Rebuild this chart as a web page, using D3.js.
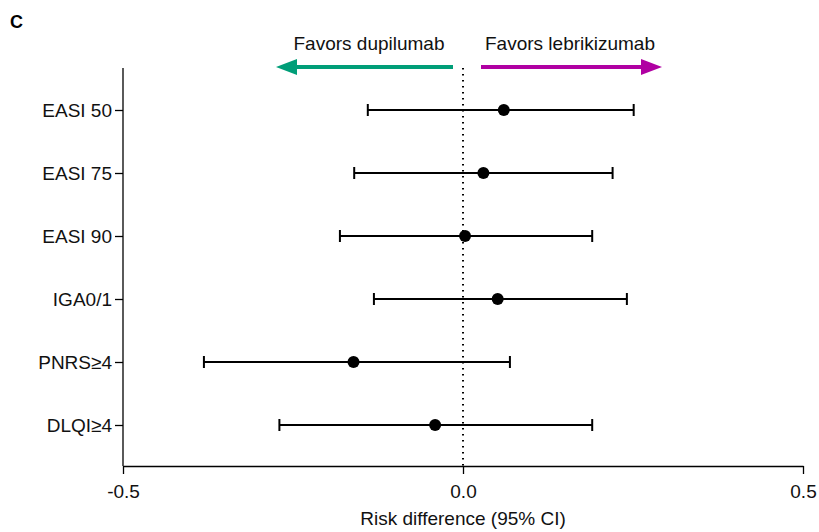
<!DOCTYPE html>
<html><head><meta charset="utf-8">
<script src="https://cdn.jsdelivr.net/npm/d3@7"></script>
<style>body{margin:0;background:#fff;} text{font-family:"Liberation Sans",Arial,sans-serif;}</style>
</head><body>
<svg id="c" width="819" height="532"></svg>
<script>
const categories = ["EASI 50","EASI 75","EASI 90","IGA0/1","PNRS≥4","DLQI≥4"];
const estimates = [0.060, 0.030, 0.003, 0.051, -0.161, -0.041];
const lowerCI = [-0.140, -0.160, -0.181, -0.131, -0.381, -0.270];
const upperCI = [0.251, 0.220, 0.190, 0.241, 0.069, 0.190];
const xTicks = [-0.5, 0, 0.5];
const xTickLabels = ["-0.5","0.0","0.5"];

const svg = d3.select("#c");
const x = d3.scaleLinear().domain([-0.5,0.5]).range([123,803]);
const y = d3.scalePoint().domain(categories).range([110,425]);
const yTop = 68, yBot = 466;
const FS = 19;

// panel letter
svg.append("text").attr("x",10).attr("y",28).attr("font-size",18).attr("font-weight","bold").text("C");

// y axis
const ya = svg.append("g").attr("transform",`translate(123,0)`)
  .call(d3.axisLeft(y).tickSize(8).tickPadding(3));
ya.select(".domain").attr("d",`M0,${yTop}V${yBot}`).attr("stroke","#000").attr("stroke-width",1.3);
ya.selectAll(".tick line").attr("stroke","#000").attr("stroke-width",1.3);
ya.selectAll(".tick text").attr("font-size",FS).attr("fill","#111").attr("dy","0.35em")
  .style("font-family","'Liberation Sans',Arial,sans-serif");

// x axis
const xa = svg.append("g").attr("transform",`translate(0,${yBot})`)
  .call(d3.axisBottom(x).tickValues(xTicks).tickFormat((d,i)=>xTickLabels[i]).tickSize(8).tickPadding(11).tickSizeOuter(0));
xa.select(".domain").attr("stroke","#000").attr("stroke-width",1.3);
xa.selectAll(".tick line").attr("stroke","#000").attr("stroke-width",1.3);
xa.selectAll(".tick text").attr("font-size",FS).attr("fill","#111")
  .style("font-family","'Liberation Sans',Arial,sans-serif");

svg.append("text").attr("x",x(0)).attr("y",525).attr("text-anchor","middle")
  .attr("font-size",FS).attr("fill","#111").text("Risk difference (95% CI)");

// zero reference line
svg.append("line").attr("x1",x(0)).attr("x2",x(0)).attr("y1",yTop).attr("y2",yBot)
  .attr("stroke","#000").attr("stroke-width",2).attr("stroke-dasharray","1.6,4.4");

// error bars
const rows = categories.map((c,i)=>({c, est:estimates[i], lo:lowerCI[i], hi:upperCI[i]}));
const g = svg.append("g");
g.selectAll(".ci").data(rows).join("line")
  .attr("x1",d=>x(d.lo)).attr("x2",d=>x(d.hi)).attr("y1",d=>y(d.c)).attr("y2",d=>y(d.c))
  .attr("stroke","#000").attr("stroke-width",2);
g.selectAll(".capl").data(rows).join("line")
  .attr("x1",d=>x(d.lo)).attr("x2",d=>x(d.lo)).attr("y1",d=>y(d.c)-6).attr("y2",d=>y(d.c)+6)
  .attr("stroke","#000").attr("stroke-width",2);
g.selectAll(".caph").data(rows).join("line")
  .attr("x1",d=>x(d.hi)).attr("x2",d=>x(d.hi)).attr("y1",d=>y(d.c)-6).attr("y2",d=>y(d.c)+6)
  .attr("stroke","#000").attr("stroke-width",2);
g.selectAll("circle").data(rows).join("circle")
  .attr("cx",d=>x(d.est)).attr("cy",d=>y(d.c)).attr("r",6).attr("fill","#000");

// direction arrows
const green = "#009E78", magenta = "#B000A2";
const ay = 67;
svg.append("line").attr("x1",453).attr("x2",292).attr("y1",ay).attr("y2",ay).attr("stroke",green).attr("stroke-width",4);
svg.append("path").attr("d",`M276,${ay}L297,${ay-8}L297,${ay+8}Z`).attr("fill",green);
svg.append("line").attr("x1",481).attr("x2",648).attr("y1",ay).attr("y2",ay).attr("stroke",magenta).attr("stroke-width",4);
svg.append("path").attr("d",`M662,${ay}L641,${ay-8}L641,${ay+8}Z`).attr("fill",magenta);
svg.append("text").attr("x",369).attr("y",50).attr("text-anchor","middle").attr("font-size",FS).attr("fill","#111").text("Favors dupilumab");
svg.append("text").attr("x",570).attr("y",50).attr("text-anchor","middle").attr("font-size",FS).attr("fill","#111").text("Favors lebrikizumab");
</script>
</body></html>
